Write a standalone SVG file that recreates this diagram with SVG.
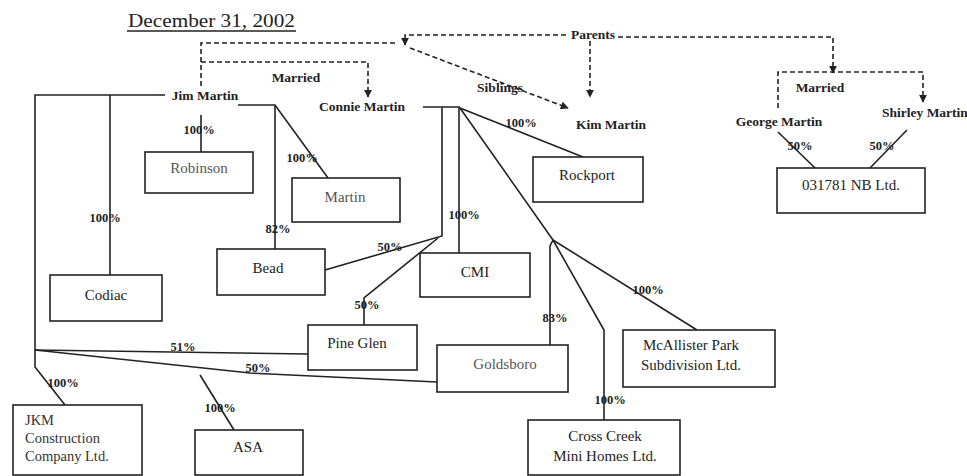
<svg xmlns="http://www.w3.org/2000/svg" width="967" height="476" viewBox="0 0 967 476">
<style>
  .box{fill:#fff;stroke:#222;stroke-width:1.6}
  .t{font-family:"Liberation Serif","Times New Roman",serif;font-size:15px;fill:#222;text-anchor:middle}
  .tl{font-family:"Liberation Serif","Times New Roman",serif;font-size:14.5px;fill:#333;text-anchor:start}
  .g{fill:#555}
  .p{font-family:"Liberation Serif","Times New Roman",serif;font-size:12.5px;font-weight:bold;fill:#222;text-anchor:middle}
  .n{font-family:"Liberation Serif","Times New Roman",serif;font-size:13.5px;font-weight:bold;fill:#222;text-anchor:middle}
  .s{fill:none;stroke:#222;stroke-width:1.6}
  .d{fill:none;stroke:#222;stroke-width:1.6;stroke-dasharray:5,3}
</style>
<defs>
  <marker id="ar" viewBox="0 0 10 10" refX="9" refY="5" markerWidth="8" markerHeight="8" orient="auto" markerUnits="userSpaceOnUse">
    <path d="M0,0 L10,5 L0,10 Z" fill="#222"/>
  </marker>
</defs>
<rect width="967" height="476" fill="#fff"/>
<g id="title">
  <text x="128" y="27" textLength="167" lengthAdjust="spacingAndGlyphs" style="font-family:'Liberation Serif','Times New Roman',serif;font-size:19px;fill:#222">December 31, 2002</text>
  <line x1="127" y1="31" x2="296" y2="31" stroke="#222" stroke-width="1.3"/>
</g>
<g id="connectors">
  <!-- family dashed -->
  <path class="d" d="M201,86 V43 H398"/>
  <path class="d" d="M566,35 H405 V45" marker-end="url(#ar)"/>
  <path class="d" d="M201,62 H368 V97" marker-end="url(#ar)"/>
  <path class="d" d="M410,48 L568,108" marker-end="url(#ar)"/>
  <path class="d" d="M590,41 V97" marker-end="url(#ar)"/>
  <path class="d" d="M618,37 H833 V73" marker-end="url(#ar)"/>
  <path class="d" d="M778,108 V72 H923 V102" marker-end="url(#ar)"/>
  <!-- ownership -->
  <path class="s" d="M165,95 H35 V350"/>
  <path class="s" d="M110,95 V275"/>
  <path class="s" d="M201,115 V152"/>
  <path class="s" d="M238,105 H275 L328,178"/>
  <path class="s" d="M275,105 V249"/>
  <path class="s" d="M423,107 H460"/>
  <path class="s" d="M442,107 V236 L325,270"/>
  <path class="s" d="M438,238 L364,298 V325"/>
  <path class="s" d="M459,107 V253"/>
  <path class="s" d="M460,108 L583,157"/>
  <path class="s" d="M460,108 L553,240"/>
  <path class="s" d="M553,240 L550,246 V345"/>
  <path class="s" d="M553,240 L604,330 V420"/>
  <path class="s" d="M553,240 L697,330"/>
  <path class="s" d="M35,350 L308,354"/>
  <path class="s" d="M35,350 L250,373 L437,382"/>
  <path class="s" d="M35,350 V367 L65,405"/>
  <path class="s" d="M200,375 L234,430"/>
  <path class="s" d="M778,132 L815,168"/>
  <path class="s" d="M907,130 L870,168"/>
</g>
<g id="labels">
  <text class="n" x="593" y="39">Parents</text>
  <text class="n" x="296" y="82">Married</text>
  <text class="n" x="500" y="92">Siblings</text>
  <text class="n" x="820" y="92">Married</text>
  <text class="p" x="199" y="134">100%</text>
  <text class="p" x="302" y="162">100%</text>
  <text class="p" x="105" y="222">100%</text>
  <text class="p" x="278" y="233">82%</text>
  <text class="p" x="390" y="251">50%</text>
  <text class="p" x="367" y="309">50%</text>
  <text class="p" x="464" y="219">100%</text>
  <text class="p" x="521" y="127">100%</text>
  <text class="p" x="555" y="322">83%</text>
  <text class="p" x="648" y="294">100%</text>
  <text class="p" x="610" y="404">100%</text>
  <text class="p" x="183" y="351">51%</text>
  <text class="p" x="258" y="372">50%</text>
  <text class="p" x="63" y="387">100%</text>
  <text class="p" x="220" y="412">100%</text>
  <text class="p" x="800" y="150">50%</text>
  <text class="p" x="882" y="150">50%</text>
</g>
<g id="jim-martin"><text class="n" x="205" y="100">Jim Martin</text></g>
<g id="connie-martin"><text class="n" x="362" y="111">Connie Martin</text></g>
<g id="kim-martin"><text class="n" x="611" y="129">Kim Martin</text></g>
<g id="george-martin"><text class="n" x="779" y="126">George Martin</text></g>
<g id="shirley-martin"><text class="n" x="882" y="117" style="text-anchor:start">Shirley Martin</text></g>
<g id="robinson"><rect class="box" x="145" y="152" width="108" height="41"/><text class="t g" x="199" y="173">Robinson</text></g>
<g id="martin"><rect class="box" x="292" y="178" width="108" height="44"/><text class="t g" x="345" y="202">Martin</text></g>
<g id="rockport"><rect class="box" x="533" y="157" width="110" height="45"/><text class="t" x="587" y="180">Rockport</text></g>
<g id="nb"><rect class="box" x="777" y="168" width="148" height="45"/><text class="t" x="851" y="190">031781 NB Ltd.</text></g>
<g id="bead"><rect class="box" x="217" y="249" width="108" height="46"/><text class="t" x="268" y="273">Bead</text></g>
<g id="codiac"><rect class="box" x="50" y="275" width="112" height="46"/><text class="t" x="106" y="300">Codiac</text></g>
<g id="cmi"><rect class="box" x="420" y="253" width="110" height="44"/><text class="t" x="475" y="277">CMI</text></g>
<g id="pine-glen"><rect class="box" x="308" y="325" width="109" height="45"/><text class="t" x="357" y="348">Pine Glen</text></g>
<g id="goldsboro"><rect class="box" x="437" y="345" width="131" height="47"/><text class="t g" x="505" y="369">Goldsboro</text></g>
<g id="mcallister"><rect class="box" x="623" y="330" width="152" height="57"/><text class="t" x="691" y="350">McAllister Park</text><text class="t" x="691" y="370">Subdivision Ltd.</text></g>
<g id="jkm"><rect class="box" x="13" y="405" width="129" height="70"/><text class="tl" x="25" y="425">JKM</text><text class="tl" x="25" y="443">Construction</text><text class="tl" x="25" y="461">Company Ltd.</text></g>
<g id="asa"><rect class="box" x="195" y="430" width="108" height="45"/><text class="t" x="248" y="452">ASA</text></g>
<g id="cross-creek"><rect class="box" x="528" y="420" width="152" height="55"/><text class="t" x="605" y="441">Cross Creek</text><text class="t" x="605" y="461">Mini Homes Ltd.</text></g>
</svg>
